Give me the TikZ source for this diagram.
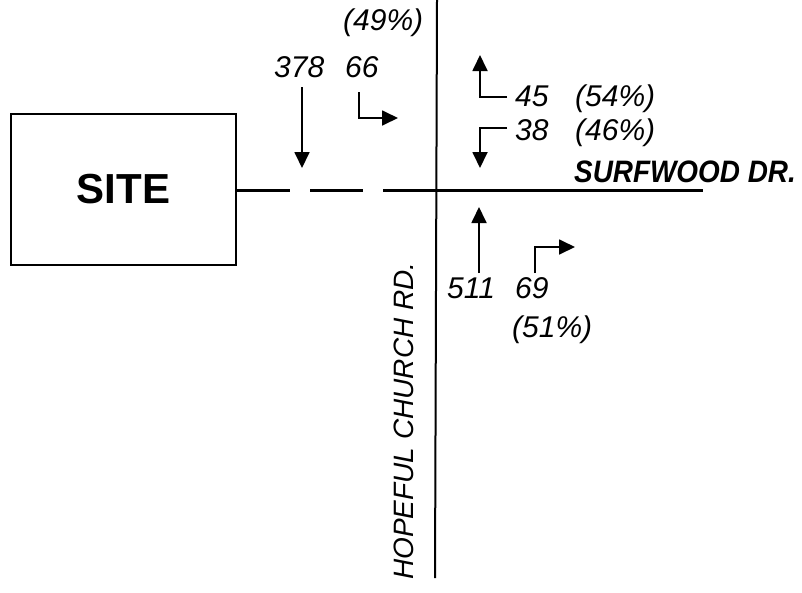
\documentclass[tikz,border=0pt]{standalone}
\usepackage{fontspec}
\setmainfont{Liberation Sans}
\usetikzlibrary{arrows.meta}
\tikzset{
  road/.style={line width=2.6pt},
  flow/.style={line width=1.8pt,-{Triangle[length=16pt,width=15pt]}},
  num/.style={font=\fontsize{30}{30}\selectfont\itshape,inner sep=0pt,anchor=base west},
  roadname/.style={font=\fontsize{31}{31}\selectfont\bfseries\itshape,inner sep=0pt,anchor=base west},
  sitebox/.style={draw,line width=2.6pt,minimum width=225pt,minimum height=151pt,inner sep=0pt},
}
\begin{document}
\begin{tikzpicture}[x=1pt,y=-1pt]
\useasboundingbox (0,0) rectangle (802,592);
% site
\node[sitebox] (site) at (123.5,189.5) {};
\node[inner sep=0pt,anchor=base,font=\fontsize{42}{42}\selectfont\bfseries] (sitelbl) at (123.5,203) {SITE};
% roads
\coordinate (d1a) at (site.east |- 0,190.5);
\coordinate (d1b) at (290,190.5);
\coordinate (d2a) at (310,190.5);
\coordinate (d2b) at (363,190.5);
\coordinate (d3a) at (383,190.5);
\coordinate (d3b) at (703,190.5);
\draw[road] (d1a) -- (d1b);
\draw[road] (d2a) -- (d2b);
\draw[road] (d3a) -- (d3b);
\coordinate (vtop) at (437,0);
\coordinate (vbot) at (435,578);
\draw[line width=2pt] (vtop) -- (vbot);
% labels
\node[num] (p49) at (343,30) {(49\%)};
\node[num] (n378) at (274,77) {378};
\node[num] (n66) at (345,77) {66};
\node[num] (n45) at (515,106) {45};
\node[num] (p54) at (575,106) {(54\%)};
\node[num] (n38) at (515,140) {38};
\node[num] (p46) at (575,140) {(46\%)};
\node[roadname,xscale=0.9] (surf) at (574,182) {SURFWOOD DR.};
\node[num] (n511) at (447,298) {511};
\node[num] (n69) at (515,298) {69};
\node[num] (p51) at (512,337) {(51\%)};
\node[font=\fontsize{28}{28}\selectfont\itshape,inner sep=0pt,anchor=base west,rotate=90] (hope) at (413,580) {HOPEFUL CHURCH RD.};
% arrows
\coordinate (a1s) at (302,87);   \coordinate (a1e) at (302,168);
\coordinate (a2s) at (359,92);   \coordinate (a2c) at (359,118); \coordinate (a2e) at (398,118);
\coordinate (a3s) at (507,97);   \coordinate (a3c) at (480,97);  \coordinate (a3e) at (480,55);
\coordinate (a4s) at (507,128);  \coordinate (a4c) at (480,128); \coordinate (a4e) at (480,168);
\coordinate (a5s) at (479,273);  \coordinate (a5e) at (479,207);
\coordinate (a6s) at (535,273);  \coordinate (a6c) at (535,247); \coordinate (a6e) at (575,247);
\draw[flow] (a1s) -- (a1e);
\draw[flow] (a2s) -- (a2c) -- (a2e);
\draw[flow] (a3s) -- (a3c) -- (a3e);
\draw[flow] (a4s) -- (a4c) -- (a4e);
\draw[flow] (a5s) -- (a5e);
\draw[flow] (a6s) -- (a6c) -- (a6e);
\end{tikzpicture}
\end{document}
